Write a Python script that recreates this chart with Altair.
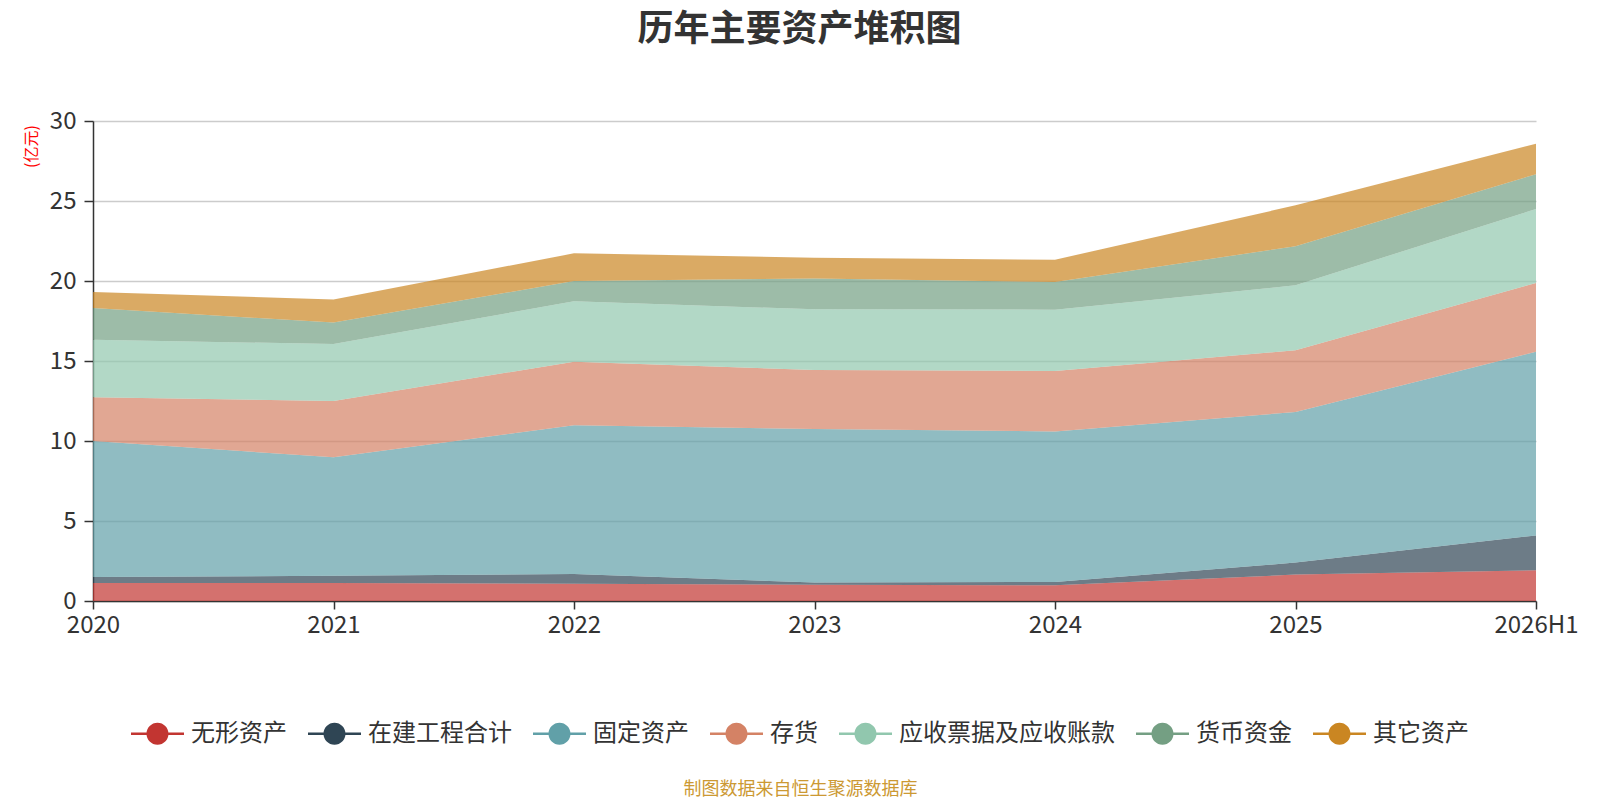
import altair as alt
import pandas as pd

FONT = "Noto Sans CJK SC"

years = ["2020", "2021", "2022", "2023", "2024", "2025", "2026H1"]
series = ["无形资产", "在建工程合计", "固定资产", "存货", "应收票据及应收账款", "货币资金", "其它资产"]
colors = ["#c23531", "#2f4554", "#61a0a8", "#d48265", "#91c7ae", "#749f83", "#ca8622"]

# 亿元
intangible = [1.12, 1.12, 1.08, 1.02, 0.98, 1.65, 1.92]
construction = [0.38, 0.46, 0.61, 0.13, 0.21, 0.75, 2.18]
fixed_assets = [8.50, 7.40, 9.29, 9.60, 9.41, 9.41, 11.48]
inventory = [2.73, 3.52, 3.98, 3.69, 3.78, 3.86, 4.30]
receivables = [3.60, 3.56, 3.77, 3.79, 3.83, 4.06, 4.62]
cash = [1.98, 1.34, 1.27, 1.92, 1.73, 2.44, 2.17]
other = [1.00, 1.45, 1.73, 1.31, 1.39, 2.56, 1.91]

all_values = [intangible, construction, fixed_assets, inventory, receivables, cash, other]

rows = []
for i, (name, vals) in enumerate(zip(series, all_values)):
    for year, v in zip(years, vals):
        rows.append({"year": year, "series": name, "value": v, "order": i})
df = pd.DataFrame(rows)

# legend symbol: short line with a dot on it
legend_symbol = (
    "M-1,-0.047 L1,-0.047 L1,0.047 L-1,0.047 Z "
    "M0.415,0 A0.415,0.415 0 1,1 -0.415,0 A0.415,0.415 0 1,1 0.415,0 Z"
)

x_axis = alt.Axis(
    title="制图数据来自恒生聚源数据库", titleColor="#cc9933", titleFontSize=18,
    titleFont=FONT, titleFontWeight="normal", titleX=707, titleY=188,
    titleAlign="center", titleBaseline="middle",
    labelAngle=0, labelFontSize=24, labelFont=FONT, labelColor="#333",
    labelPadding=4, labelOverlap=False, tickSize=8, tickColor="#333",
    tickWidth=1.5, domainColor="#333", domainWidth=1.5, grid=False,
)
y_axis = alt.Axis(
    title="(亿元)", titleColor="red", titleFontSize=16, titleFont=FONT,
    titleFontWeight="normal", titleX=-62, titleY=25, titleAngle=270,
    titleAlign="center", titleBaseline="middle",
    values=[0, 5, 10, 15, 20, 25, 30], labelFontSize=24, labelFont=FONT,
    labelColor="#333", labelPadding=8, tickSize=9, tickColor="#333",
    tickWidth=1.5, domainColor="#333", domainWidth=1.5,
    grid=True, gridColor="#ccc", gridWidth=1.5,
)
legend = alt.Legend(
    title=None, orient="none", legendX=38, legendY=586, direction="horizontal",
    symbolType=legend_symbol, symbolSize=2809, symbolOpacity=1, symbolStrokeWidth=0,
    labelFontSize=24, labelFont=FONT, labelColor="#333", labelOffset=7,
    labelLimit=400, columnPadding=21, padding=0,
)

chart = alt.Chart(df).mark_area(opacity=0.7).encode(
    x=alt.X("year:O", sort=years, scale=alt.Scale(type="point", padding=0), axis=x_axis),
    y=alt.Y("value:Q", stack="zero", scale=alt.Scale(domain=[0, 30]), axis=y_axis),
    color=alt.Color("series:N", sort=series,
                    scale=alt.Scale(domain=series, range=colors), legend=legend),
    order=alt.Order("order:Q"),
).properties(
    width=1443, height=480,
    autosize="none",
    padding={"left": 85, "top": 113, "right": 56, "bottom": 197},
    title=alt.Title("历年主要资产堆积图", fontSize=36, fontWeight="bold", color="#333",
                    font=FONT, anchor="middle", dx=-15, offset=60),
).configure_view(strokeWidth=0)

chart.save("out.html", embed_options={"renderer": "svg", "actions": False})
